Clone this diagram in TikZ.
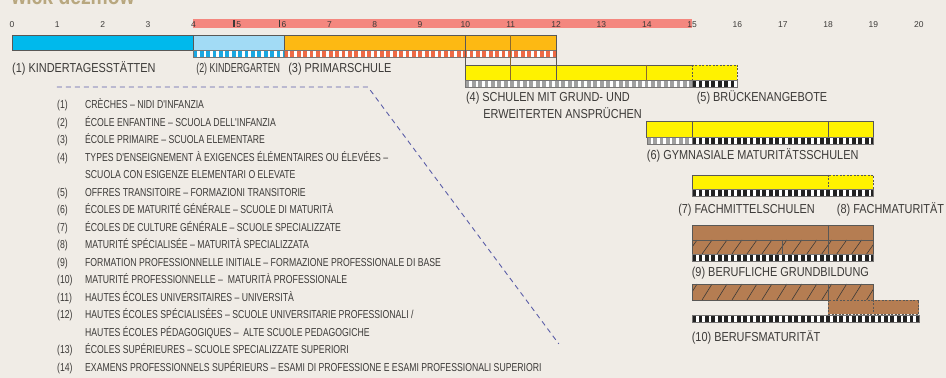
\documentclass[tikz,border=0pt]{standalone}
\usepackage{graphicx}
\usepackage{fontspec}
\setmainfont{Liberation Sans}[FakeStretch=0.84]
\newfontfamily\legendfont{Liberation Sans}[FakeStretch=0.755]
\newfontfamily\agefont{Liberation Sans}
\usetikzlibrary{positioning}

\definecolor{paper}{HTML}{F0ECE6}
\definecolor{ink}{HTML}{3C3A38}
\definecolor{kitacyan}{HTML}{00B9EC}
\definecolor{kgblue}{HTML}{A2DBF5}
\definecolor{primorange}{HTML}{FDB913}
\definecolor{secyellow}{HTML}{FFF200}
\definecolor{vocbrown}{HTML}{B57D52}
\definecolor{ageband}{HTML}{F4877F}
\definecolor{titletan}{HTML}{B8A77F}
\definecolor{leader}{HTML}{5B5EA8}
\definecolor{stripered}{HTML}{EE6A45}
\definecolor{stripeblue}{HTML}{1AA7E0}
\definecolor{stripegray}{HTML}{A0A0A0}
\definecolor{stripeblack}{HTML}{222222}
\definecolor{divbrown}{HTML}{8A6A2E}

\tikzset{
  stage/.style={draw=ink!85, line width=0.8pt},
  optional/.style={draw=ink!85, line width=0.8pt, dash pattern=on 2pt off 1.5pt},
  divider/.style={ink!85, line width=0.8pt},
  olddiv/.style={divbrown, line width=1.1pt},
  agenum/.style={font=\agefont\fontsize{8.5}{10}\selectfont, text=ink, inner sep=0pt, anchor=base},
  stagelbl/.style={font=\fontsize{13}{17.3}\selectfont, text=ink, inner sep=0pt,
    anchor=base west},
  leaderline/.style={leader, line width=0.9pt, dash pattern=on 5pt off 4pt}
}

% white band under a bar with coloured blocks: from, to, top, colour
\newcommand\agestripe[4]{%
  \fill[white] (#1,#3) rectangle (#2,#3+7);
  \draw[#4, line width=6.2pt, dash pattern=on 3.8pt off 2.6pt] (#1,#3+3.5) -- (#2,#3+3.5);
  \draw[ink!70, line width=0.5pt] (#1,#3) rectangle (#2,#3+7);
}
% brown bar with slashes: from, to, top, bottom
\newcommand\hatchbar[4]{%
  \fill[vocbrown] (#1,#3) rectangle (#2,#4);
  \begin{scope}
    \clip (#1,#3) rectangle (#2,#4);
    \foreach \h in {0,0.33,...,5.4}
      \draw[ink, line width=0.6pt] (#1+\h-0.11,#4) -- (#1+\h+0.11,#3);
  \end{scope}
}

\begin{document}
\begin{tikzpicture}[x=45.35pt, y=-1pt]
  \fill[paper] (-0.265,0) rectangle (20.6,378);
  \useasboundingbox (-0.265,0) rectangle (20.6,378);

  % heading, cut by the top edge
  \begin{scope}
    \clip (-0.265,0) rectangle (20.6,378);
    \node[font=\fontsize{23}{23}\selectfont\bfseries, text=titletan, inner sep=0pt,
      anchor=base west] (title) at (-0.02,4.5) {wick dezmow};
  \end{scope}

  % age scale
  \fill[ageband] (4,19) rectangle (15,28);
  \foreach \a in {0,...,20}
    \node[agenum] (age\a) at (\a,27.5) {\a};
  \draw[ink, line width=1.6pt] (4.9,20) -- (4.9,27);
  \draw[ink, line width=1.6pt] (5.9,20) -- (5.9,27);

  % (1) (2) (3)
  \filldraw[stage, fill=kitacyan] (0,35) rectangle (4,50);
  \filldraw[stage, fill=kgblue] (4,35) rectangle (6,50);
  \agestripe{4}{6}{50}{stripeblue}
  \filldraw[stage, fill=primorange] (6,35) rectangle (12,50);
  \agestripe{6}{12}{50}{stripered}
  \draw[divider] (10,35) -- (10,65);
  \draw[olddiv] (11,35) -- (11,65);
  \draw[divider] (12,35) -- (12,65);

  % (4) (5)
  \fill[secyellow] (10,65) rectangle (16,80);
  \draw[stage] (15,65) -- (10,65) -- (10,80) -- (15,80);
  \draw[optional] (15,65) rectangle (16,80);
  \draw[olddiv] (11,65) -- (11,80);
  \draw[divider] (12,65) -- (12,80);
  \draw[olddiv] (14,65) -- (14,80);
  \agestripe{10}{15}{80}{stripegray}
  \agestripe{15}{16}{80}{stripeblack}

  % (6)
  \filldraw[stage, fill=secyellow] (14,121) rectangle (19,137);
  \draw[divider] (15,121) -- (15,137);
  \draw[divider] (18,121) -- (18,137);
  \agestripe{14}{15}{137}{stripegray}
  \agestripe{15}{19}{137}{stripeblack}

  % (7) (8)
  \fill[secyellow] (15,175) rectangle (19,189);
  \draw[stage] (18,175) -- (15,175) -- (15,189) -- (18,189);
  \draw[optional] (18,175) rectangle (19,189);
  \agestripe{15}{19}{189}{stripeblack}

  % (9)
  \filldraw[stage, fill=vocbrown] (15,225) rectangle (19,240);
  \draw[divider] (18,225) -- (18,240);
  \hatchbar{15}{19}{240}{254}
  \draw[stage] (15,240) rectangle (19,254);
  \draw[divider] (17,240) -- (17,254);
  \draw[divider] (18,240) -- (18,254);
  \agestripe{15}{19}{254}{stripeblack}

  % (10)
  \hatchbar{15}{19}{284}{300}
  \draw[stage] (15,284) rectangle (19,300);
  \draw[divider] (18,284) -- (18,300);
  \fill[vocbrown] (18,300) rectangle (20,314);
  \draw[optional] (18,300) rectangle (20,314);
  \draw[optional] (19,300) -- (19,314);
  \agestripe{15}{20}{315}{stripeblack}

  % stage labels
  \node[stagelbl] (kita) at (0,72.5) {(1) KINDERTAGESSTÄTTEN};
  \node[stagelbl] (kg) at (4.06,72.5) {\scalebox{0.815}[1]{(2) KINDERGARTEN}};
  \node[stagelbl] (prim) at (6.09,72.5) {(3) PRIMARSCHULE};
  \node[stagelbl] (sek) at (10.01,101.7) {(4) SCHULEN MIT GRUND- UND};
  \node[stagelbl] (sek2) at (10.39,119) {ERWEITERTEN ANSPRÜCHEN};
  \node[stagelbl] (bruecke) at (15.1,101.7) {(5) BRÜCKENANGEBOTE};
  \node[stagelbl] (gym) at (14.0,160) {(6) GYMNASIALE MATURITÄTSSCHULEN};
  \node[stagelbl] (fms) at (14.69,213.3) {(7) FACHMITTELSCHULEN};
  \node[stagelbl] (fm) at (18.19,213.3) {(8) FACHMATURITÄT};
  \node[stagelbl] (grund) at (14.99,276.7) {(9) BERUFLICHE GRUNDBILDUNG};
  \node[stagelbl] (bm) at (14.99,341.5) {(10) BERUFSMATURITÄT};

  % translations
  \coordinate (lead0) at (0.992,87);
  \coordinate (lead1) at (7.85,87);
  \coordinate (lead2) at (12.06,344);
  \draw[leaderline] (lead0) -- (lead1) -- (lead2);

  \node[anchor=base west, inner sep=0pt, text=ink, font=\legendfont\fontsize{11.5}{17.5}\selectfont]
    (legend) at (0.992,109) {%
    \begin{tabular}[t]{@{}p{28pt}@{}l@{}}
      (1)  & CRÈCHES – NIDI D'INFANZIA\\
      (2)  & ÉCOLE ENFANTINE – SCUOLA DELL'INFANZIA\\
      (3)  & ÉCOLE PRIMAIRE – SCUOLA ELEMENTARE\\
      (4)  & TYPES D'ENSEIGNEMENT À EXIGENCES ÉLÉMENTAIRES OU ÉLEVÉES –\\
           & SCUOLA CON ESIGENZE ELEMENTARI O ELEVATE\\
      (5)  & OFFRES TRANSITOIRE – FORMAZIONI TRANSITORIE\\
      (6)  & ÉCOLES DE MATURITÉ GÉNÉRALE – SCUOLE DI MATURITÀ\\
      (7)  & ÉCOLES DE CULTURE GÉNÉRALE – SCUOLE SPECIALIZZATE\\
      (8)  & MATURITÉ SPÉCIALISÉE – MATURITÀ SPECIALIZZATA\\
      (9)  & FORMATION PROFESSIONNELLE INITIALE – FORMAZIONE PROFESSIONALE DI BASE\\
      (10) & MATURITÉ PROFESSIONNELLE – \ MATURITÀ PROFESSIONALE\\
      (11) & HAUTES ÉCOLES UNIVERSITAIRES – UNIVERSITÀ\\
      (12) & HAUTES ÉCOLES SPÉCIALISÉES – SCUOLE UNIVERSITARIE PROFESSIONALI /\\
           & HAUTES ÉCOLES PÉDAGOGIQUES – \ ALTE SCUOLE PEDAGOGICHE\\
      (13) & ÉCOLES SUPÉRIEURES – SCUOLE SPECIALIZZATE SUPERIORI\\
      (14) & EXAMENS PROFESSIONNELS SUPÉRIEURS – ESAMI DI PROFESSIONE E ESAMI PROFESSIONALI SUPERIORI
    \end{tabular}};
\end{tikzpicture}
\end{document}
